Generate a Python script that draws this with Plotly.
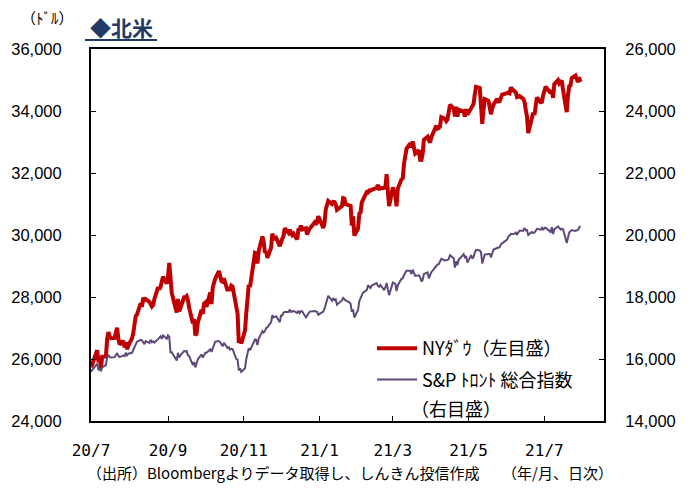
import pandas as pd
import plotly.graph_objects as go

# ---------------- data ----------------
start_date = "2020-07-01"
end_date = "2021-07-30"
market_holidays = ["2020-07-03", "2020-09-07", "2020-11-26", "2020-12-25",
                   "2021-01-01", "2021-01-18", "2021-02-15", "2021-04-02",
                   "2021-05-31", "2021-07-05"]

# NY Dow (left axis), daily closes by month
dow = [
    # 2020-07
    25734, 25827, 26287, 25890, 26067, 25706, 26075, 26085, 26643, 26870, 26735,
    26672, 26680, 26840, 27005, 26652, 26470, 26585, 26379, 26540, 26314, 26428,
    # 2020-08
    26665, 26828, 27201, 27387, 27433, 27791, 27687, 27977, 27897, 27931, 27844,
    27779, 27693, 27740, 27930, 28308, 28249, 28332, 28492, 28654, 28430,
    # 2020-09
    28646, 29100, 28293, 28133, 27501, 27940, 27535, 27666, 27993, 27996, 28032,
    27902, 27657, 27148, 27289, 26763, 26815, 27174, 27584, 27453, 27782,
    # 2020-10
    27817, 27683, 28149, 27773, 28304, 28426, 28587, 28838, 28680, 28515, 28495,
    28606, 28196, 28309, 28211, 28364, 28336, 27686, 27464, 26520, 26660, 26502,
    # 2020-11
    26925, 27480, 27848, 28390, 28323, 29158, 29421, 29398, 29080, 29480, 29950,
    29784, 29438, 29483, 29263, 29591, 30046, 29873, 29910, 29639,
    # 2020-12
    29824, 29883, 29970, 30218, 30070, 30174, 30068, 29999, 30046, 29861, 30199,
    30155, 30304, 30179, 30216, 30016, 30130, 30200, 30404, 30336, 30410, 30606,
    # 2021-01
    30224, 30392, 30830, 31041, 31098, 30999, 31068, 31061, 30992, 30814, 30931,
    31188, 31176, 30997, 30960, 30937, 30303, 30603, 29983,
    # 2021-02
    30212, 30688, 30724, 31056, 31148, 31386, 31376, 31438, 31431, 31458, 31523,
    31613, 31494, 31494, 31522, 31537, 31962, 31402, 30932,
    # 2021-03
    31535, 31391, 31270, 30924, 31496, 31802, 31833, 32297, 32485, 32779, 32953,
    32826, 33015, 32862, 32628, 32732, 32423, 32420, 32619, 33072, 33171, 33066, 32982,
    # 2021-04
    33153, 33527, 33430, 33446, 33504, 33800, 33746, 33677, 33731, 34036, 34201,
    34078, 33821, 34137, 33815, 34043, 33981, 33985, 33820, 34060, 33875,
    # 2021-05
    34113, 34133, 34230, 34548, 34778, 34743, 34270, 33587, 34021, 34382, 34328,
    34061, 33896, 34084, 34208, 34394, 34313, 34323, 34465, 34529,
    # 2021-06
    34575, 34600, 34577, 34756, 34630, 34600, 34448, 34466, 34480, 34394, 34300,
    34033, 33823, 33290, 33877, 33945, 33874, 34196, 34434, 34283, 34292, 34503,
    # 2021-07
    34634, 34786, 34577, 34681, 34422, 34870, 34996, 34889, 34933, 34987, 34688,
    33962, 34512, 34798, 34823, 35062, 35144, 35059, 34931, 35085, 34935,
]

# S&P/TSX composite (right axis), daily closes by month
tsx = [
    # 2020-07
    15590, 15650, 15850, 15640, 15700, 15610, 15730, 15800, 16050, 16140, 16060,
    16050, 16060, 16120, 16190, 16110, 16060, 16110, 16090, 16200, 16120, 16170,
    # 2020-08
    16200, 16290, 16380, 16500, 16560, 16620, 16600, 16540, 16480, 16580, 16520,
    16620, 16540, 16570, 16530, 16640, 16700, 16730, 16650, 16760, 16650,
    # 2020-09
    16760, 16720, 16220, 16220, 15950, 16200, 16050, 16120, 16260, 16240, 16260,
    16120, 16100, 15800, 15900, 15730, 15850, 15990, 16150, 16050, 16120,
    # 2020-10
    16200, 16200, 16310, 16230, 16370, 16450, 16560, 16580, 16540, 16490, 16410,
    16520, 16350, 16380, 16300, 16330, 16320, 16000, 15980, 15630, 15700, 15580,
    # 2020-11
    15700, 16000, 16200, 16350, 16280, 16570, 16630, 16620, 16450, 16650, 16900,
    16850, 16900, 17000, 17020, 17190, 17410, 17340, 17380, 17190,
    # 2020-12
    17400, 17400, 17500, 17520, 17520, 17580, 17520, 17540, 17550, 17490, 17560,
    17480, 17540, 17540, 17340, 17400, 17480, 17530, 17550, 17540, 17520, 17430,
    # 2021-01
    17530, 17620, 17780, 17940, 18040, 17880, 17950, 17900, 17930, 17750, 17890,
    17970, 17930, 17890, 17830, 17780, 17520, 17600, 17340,
    # 2021-02
    17580, 17870, 17950, 18060, 18140, 18220, 18380, 18330, 18290, 18370, 18450,
    18360, 18330, 18390, 18220, 18320, 18450, 18240, 18060,
    # 2021-03
    18470, 18440, 18420, 18190, 18380, 18590, 18600, 18710, 18800, 18850, 18850,
    18740, 18880, 18760, 18680, 18700, 18640, 18500, 18550, 18740, 18790, 18600, 18700,
    # 2021-04
    18800, 19000, 19050, 19060, 19130, 19230, 19180, 19190, 19190, 19230, 19350,
    19250, 18950, 19150, 19030, 19200, 19330, 19380, 19280, 19320, 19110,
    # 2021-05
    19350, 19240, 19290, 19430, 19520, 19500, 19440, 19080, 19200, 19370, 19390,
    19390, 19280, 19420, 19530, 19580, 19590, 19610, 19690, 19730,
    # 2021-06
    19850, 19950, 19980, 20030, 20040, 20080, 20020, 20080, 20140, 20140, 20230,
    20150, 20160, 20000, 20100, 20060, 20080, 20130, 20200, 20170, 20230, 20160,
    # 2021-07
    20230, 20230, 20100, 20250, 20030, 20180, 20280, 20230, 20180, 20200, 20190,
    19740, 19950, 20080, 20120, 20160, 20130, 20140, 20160, 20240, 20290,
]

x_tick_dates = ["2020-07-01", "2020-09-01", "2020-11-01", "2021-01-01",
                "2021-03-01", "2021-05-01", "2021-07-01"]
x_tick_labels = ["20/7", "20/9", "20/11", "21/1", "21/3", "21/5", "21/7"]
left_ticks = [24000, 26000, 28000, 30000, 32000, 34000, 36000]
right_ticks = [14000, 16000, 18000, 20000, 22000, 24000, 26000]

dow_name = "NYﾀﾞｳ（左目盛）"
tsx_name = "S&P ﾄﾛﾝﾄ 総合指数"
tsx_name_line2 = "（右目盛）"

# ---------------- figure ----------------
dates = pd.bdate_range(start_date, end_date)
dates = dates[~dates.isin(pd.to_datetime(market_holidays))]
assert len(dates) == len(dow) == len(tsx), (len(dates), len(dow), len(tsx))

W, H = 697, 488
L, R, T, B = 91, 604, 49, 421
JP = "Noto Sans CJK JP"
NUM = "Liberation Sans, Noto Sans CJK JP"
XFONT = "DejaVu Sans Mono, Liberation Mono, monospace"

def px(x):
    return (x - L) / (R - L)

def py(y):
    return (B - y) / (B - T)

fig = go.Figure()
fig.add_trace(go.Scatter(x=dates, y=dow, name=dow_name, mode="lines",
                         legendgroup="dow",
                         line=dict(color="#C00000", width=4), yaxis="y"))
fig.add_trace(go.Scatter(x=dates, y=tsx, name=tsx_name, mode="lines",
                         legendgroup="tsx",
                         line=dict(color="#5F497A", width=2), yaxis="y2"))

fig.update_layout(
    width=W, height=H,
    margin=dict(l=L, r=W - R, t=T, b=H - B, pad=0, autoexpand=False),
    paper_bgcolor="white", plot_bgcolor="white",
    showlegend=True,
    legend=dict(x=px(372), y=py(330), xanchor="left", yanchor="top",
                bgcolor="rgba(0,0,0,0)", font=dict(family=JP, size=18, color="#000"),
                valign="top", traceorder="grouped", tracegroupgap=5, itemwidth=40),
    xaxis=dict(type="date", range=["2020-07-01", "2021-08-18"],
               tickvals=x_tick_dates, ticktext=x_tick_labels,
               ticks="inside", ticklen=5, tickwidth=1, tickcolor="#000",
               showline=True, linecolor="#000", linewidth=2, mirror=True,
               showgrid=False, zeroline=False, automargin=False,
               tickfont=dict(family=XFONT, size=16, color="#000"),
               ticklabelstandoff=14),
    yaxis=dict(range=[24000, 36000], tickvals=left_ticks,
               tickformat=",d", ticks="inside", ticklen=5, tickwidth=1,
               tickcolor="#000", showline=True, linecolor="#000", linewidth=2,
               showgrid=False, zeroline=False, automargin=False,
               tickfont=dict(family=NUM, size=16.5, color="#000"),
               ticklabelstandoff=24),
    yaxis2=dict(range=[14000, 26000], tickvals=right_ticks, overlaying="y",
                side="right", tickformat=",d", ticks="inside", ticklen=5,
                tickwidth=1, tickcolor="#000", showline=True, linecolor="#000",
                linewidth=2, showgrid=False, zeroline=False, automargin=False,
                tickfont=dict(family=NUM, size=16.5, color="#000"),
                ticklabelstandoff=16),
)

annotations = [
    dict(text="（ﾄﾞﾙ）", x=px(47), y=py(17), xanchor="center", yanchor="middle",
         font=dict(family=JP, size=15, color="#000")),
    dict(text="<b>◆北米</b>", x=px(88), y=py(27), xanchor="left", yanchor="middle",
         font=dict(family=JP, size=21, color="#1F3B66")),
    dict(text="（出所）Bloombergよりデータ取得し、しんきん投信作成　　（年/月、日次）",
         x=px(350), y=py(472), xanchor="center", yanchor="middle",
         font=dict(family=JP, size=15, color="#000")),
    dict(text=tsx_name_line2, x=px(409), y=py(408), xanchor="left", yanchor="middle",
         font=dict(family=JP, size=18, color="#000")),
]
for a in annotations:
    a.update(xref="paper", yref="paper", showarrow=False)
fig.update_layout(annotations=annotations)

fig.add_shape(type="line", xref="paper", yref="paper",
              x0=px(85), x1=px(157), y0=py(40), y1=py(40),
              line=dict(color="#1F3B66", width=2))

fig.write_html("out.html", config={"displayModeBar": False},
               post_script="document.body.style.margin='0';document.body.style.padding='0';")
